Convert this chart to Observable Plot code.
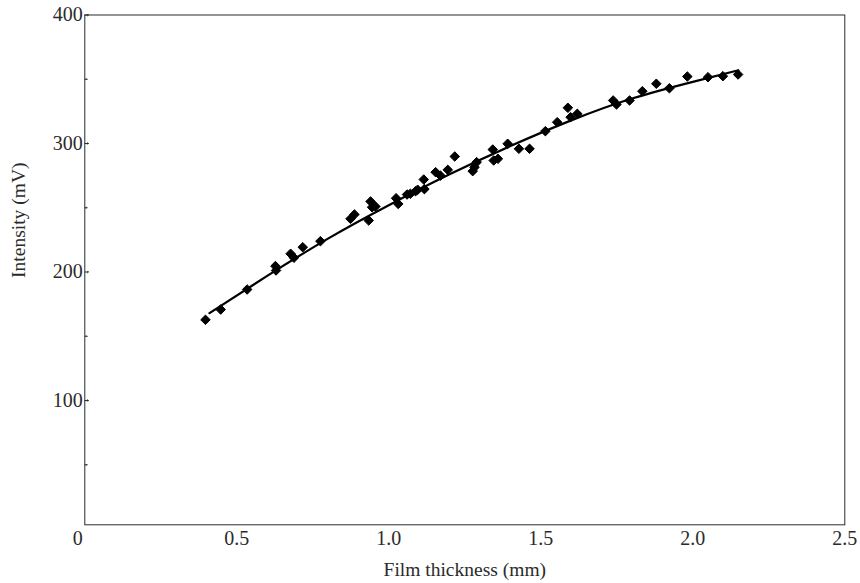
<!DOCTYPE html>
<html>
<head>
<meta charset="utf-8">
<script src="https://cdn.jsdelivr.net/npm/d3@7"></script>
<script src="https://cdn.jsdelivr.net/npm/@observablehq/plot@0.6"></script>
<style>
  html, body { margin: 0; padding: 0; background: #fff; }
  #chart svg { display: block; }
</style>
</head>
<body>
<div id="chart"></div>
<script>
// Measured data: film thickness (mm) vs intensity (mV)
const thickness = [0.397, 0.447, 0.534, 0.627, 0.629, 0.677, 0.688, 0.717, 0.775, 0.874,
  0.887, 0.934, 0.94, 0.945, 0.956, 1.024, 1.031, 1.06, 1.071, 1.088,
  1.095, 1.115, 1.117, 1.154, 1.17, 1.194, 1.217, 1.276, 1.282, 1.289,
  1.342, 1.345, 1.359, 1.391, 1.428, 1.463, 1.515, 1.554, 1.589, 1.598,
  1.62, 1.738, 1.749, 1.792, 1.834, 1.88, 1.923, 1.982, 2.05, 2.099, 2.149];
const intensity = [162.8, 170.8, 186.4, 204.6, 201.2, 214.2, 211.1, 219.3, 224, 241.4,
  244.8, 240.1, 254.9, 250.4, 251, 257.4, 253, 260.3, 260.9, 262.9,
  264, 272, 264.5, 277.7, 275, 279.5, 289.9, 278.5, 281.5, 285.5,
  295.3, 286.8, 288.1, 299.8, 295.9, 295.9, 309.6, 316.6, 327.8, 320.5,
  323.1, 333.5, 330.4, 333.5, 340.7, 346.5, 343, 352.1, 351.6, 352.4, 353.7];

// Fitted curve
const fitX = [0.41, 0.6, 0.8, 1.0, 1.2, 1.4, 1.6, 1.8, 2.0, 2.15];
const fitY = [168, 197, 226, 252, 276, 298, 318, 335, 348, 357];

// Axes
const xDomain = [0, 2.5];
const yDomain = [3.3, 400];
const xTicks = [0.5, 1.0, 1.5, 2.0, 2.5];
const xTickLabels = ["0.5", "1.0", "1.5", "2.0", "2.5"];
const yTicks = [100, 200, 300, 400];
const yMinorTicks = [50, 150, 250, 350];
const xLabel = "Film thickness (mm)";
const yLabel = "Intensity (mV)";
const originLabel = "0";

const points = thickness.map((x, i) => ({x, y: intensity[i]}));
const fit = fitX.map((x, i) => ({x, y: fitY[i]}));

const ink = "#2b2b2b";
const font = "'Liberation Serif', 'DejaVu Serif', serif";

const chart = Plot.plot({
  width: 860,
  height: 583,
  marginLeft: 84.3,
  marginRight: 15.7,
  marginTop: 14.5,
  marginBottom: 58.7,
  style: {fontFamily: font, fontSize: "20px", background: "#fff", color: ink},
  x: {domain: xDomain},
  y: {domain: yDomain},
  marks: [
    Plot.frame({stroke: ink, strokeWidth: 1}),
    Plot.axisX({ticks: xTicks, tickFormat: (d, i) => xTickLabels[i], tickSize: 0, tickPadding: 6,
      fontSize: 20, fill: ink, label: null}),
    Plot.text([originLabel], {x: xDomain[0], text: d => d, frameAnchor: "bottom", lineAnchor: "top",
      dy: 6, dx: -7, fontSize: 20, fill: ink}),
    Plot.axisY({ticks: yTicks, tickSize: 0, tickPadding: 2, fontSize: 20, fill: ink, label: null}),
    Plot.vector(yTicks, {x: xDomain[0], y: d => d, length: 3.5, rotate: 90, anchor: "start",
      stroke: ink, strokeWidth: 1}),
    Plot.vector(yMinorTicks, {x: xDomain[0], y: d => d, length: 2.2, rotate: 90, anchor: "start",
      stroke: ink, strokeWidth: 1}),
    Plot.text([xLabel], {frameAnchor: "bottom", text: d => d, dy: 45, lineAnchor: "middle",
      fontSize: 19.5, fill: ink}),
    Plot.text([yLabel], {frameAnchor: "left", text: d => d, rotate: -90, dx: -66, dy: 8,
      lineAnchor: "middle", fontSize: 19.5, fill: ink}),
    Plot.line(fit, {x: "x", y: "y", curve: "natural", stroke: "#000", strokeWidth: 2.2}),
    Plot.dot(points, {x: "x", y: "y", symbol: "diamond2", r: 4.3, fill: "#000",
      stroke: "#000", strokeWidth: 1, strokeLinejoin: "round"})
  ]
});
document.getElementById("chart").appendChild(chart);
</script>
</body>
</html>
